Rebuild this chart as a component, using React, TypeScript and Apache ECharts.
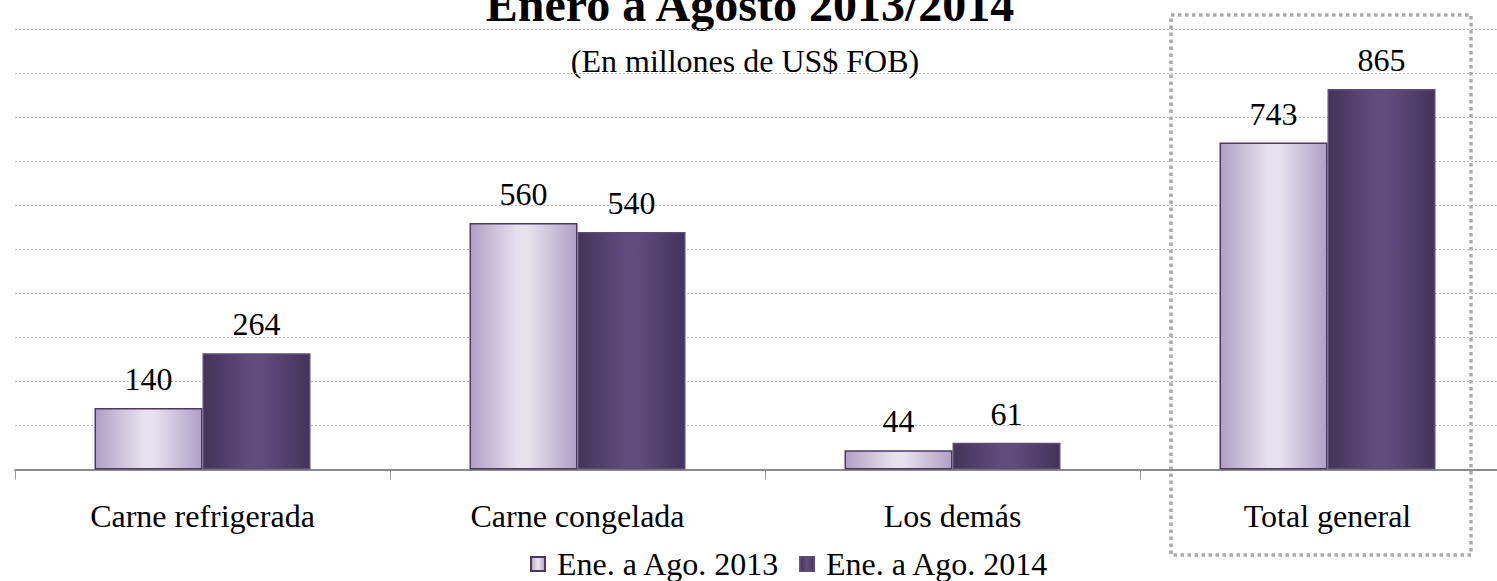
import React, { useEffect, useRef } from "react";
import * as echarts from "echarts";

const categories = ["Carne refrigerada", "Carne congelada", "Los demás", "Total general"];
const values2013 = [140, 560, 44, 743];
const values2014 = [264, 540, 61, 865];
const seriesNames = ["Ene. a Ago. 2013", "Ene. a Ago. 2014"];
const yTicks = { min: 0, max: 1000, interval: 100 };
const titleText = "Enero a Agosto 2013/2014";
const subtitleText = "(En millones de US$ FOB)";

const FONT = '"Liberation Serif", "Times New Roman", Times, serif';

const grad = (edge: string, mid: string) =>
  new echarts.graphic.LinearGradient(0, 0, 1, 0, [
    { offset: 0, color: edge },
    { offset: 0.45, color: mid },
    { offset: 0.55, color: mid },
    { offset: 1, color: edge },
  ]);

export default function App() {
  const ref = useRef<HTMLDivElement>(null);
  useEffect(() => {
    if (!ref.current) return;
    const chart = echarts.init(ref.current, undefined, { renderer: "svg" });
    const labelCfg = {
      show: true,
      position: "top" as const,
      distance: 13,
      fontFamily: FONT,
      fontSize: 32,
      color: "#000",
    };
    chart.setOption({
      animation: false,
      textStyle: { fontFamily: FONT },
      grid: { left: 15, width: 1500, top: 29.5, height: 440, outerBoundsMode: "none" },
      legend: {
        left: 530,
        top: 548,
        padding: 0,
        itemWidth: 14,
        itemHeight: 14,
        itemGap: 19,
        icon: "rect",
        textStyle: { fontFamily: FONT, fontSize: 32, color: "#000", padding: [0, 0, 0, 7] },
        data: seriesNames,
      },
      xAxis: {
        type: "category",
        data: categories,
        axisLine: { show: true, lineStyle: { color: "#8c8c8c", width: 2 } },
        axisTick: { show: true, length: 10, lineStyle: { color: "#999", width: 1 } },
        axisLabel: { fontFamily: FONT, fontSize: 32, color: "#000", margin: 30 },
      },
      yAxis: {
        type: "value",
        min: yTicks.min,
        max: yTicks.max,
        interval: yTicks.interval,
        axisLine: { show: false },
        axisTick: { show: false },
        axisLabel: { show: false },
        splitLine: { show: true, lineStyle: { color: "#bdbdbd", type: [2, 2], width: 1 } },
      },
      series: [
        {
          name: seriesNames[0],
          type: "bar",
          data: values2013,
          barWidth: 108,
          barGap: "0%",
          itemStyle: {
            color: grad("#b09fc6", "#e7e1ee"),
            borderColor: "#4a3a60",
            borderWidth: 1.5,
          },
          label: labelCfg,
        },
        {
          name: seriesNames[1],
          type: "bar",
          data: values2014,
          barWidth: 108,
          barGap: "0%",
          itemStyle: {
            color: grad("#42345a", "#614c7f"),
            borderColor: "#5d4d74",
            borderWidth: 1.5,
          },
          label: labelCfg,
        },
      ],
      graphic: [
        {
          type: "text",
          x: 750,
          y: 4,
          style: {
            text: titleText,
            font: `bold 48px ${FONT}`,
            fill: "#000",
            textAlign: "center",
            textVerticalAlign: "middle",
          },
        },
        {
          type: "text",
          x: 745,
          y: 61,
          style: {
            text: subtitleText,
            font: `32px ${FONT}`,
            fill: "#000",
            textAlign: "center",
            textVerticalAlign: "middle",
          },
        },
        {
          type: "rect",
          shape: { x: 1171, y: 15, width: 300, height: 540 },
          style: { fill: "none", stroke: "#ababab", lineWidth: 3.5, lineDash: [3.5, 3.5] },
        },
      ],
    });
    return () => chart.dispose();
  }, []);
  return (
    <div
      ref={ref}
      style={{ position: "fixed", left: 0, top: 0, width: 1497, height: 581, background: "#fff" }}
    />
  );
}
